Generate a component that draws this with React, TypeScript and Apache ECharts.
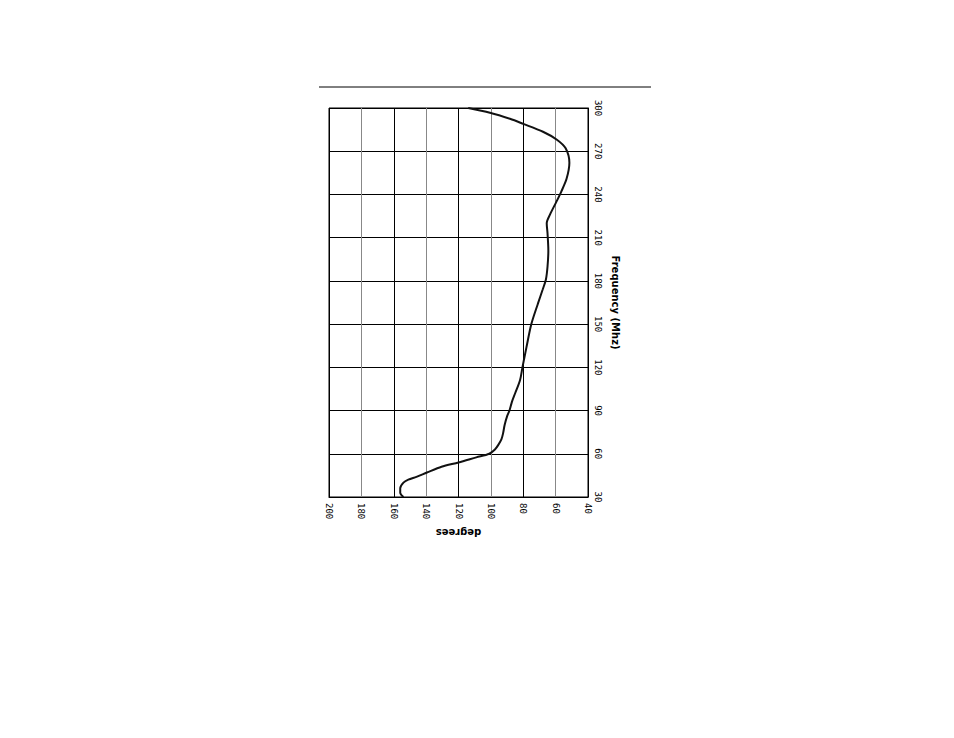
import { useEffect, useRef } from "react";
import * as echarts from "echarts";

// frequency (MHz) along the vertical axis, phase (degrees) along the horizontal one
const freqTicks = [30, 60, 90, 120, 150, 180, 210, 240, 270, 300];
const degreeTicks = [200, 180, 160, 140, 120, 100, 80, 60, 40];

const frequency = [
  30, 33, 36, 40, 42, 44, 47, 51, 54, 57.5, 60, 63, 66, 70, 74, 80, 86, 90, 96, 102, 111, 120,
  134, 150, 164, 174, 181, 190, 201, 213, 220, 226, 235, 242, 251, 262, 272, 278, 283.5, 289,
  292.5, 296.7, 300,
];
const degrees = [
  154, 156, 156, 154, 151, 146, 139.5, 130.5, 120, 109, 101, 97.5, 95.5, 93.5, 92.5, 91.5, 90,
  88.5, 87, 85, 82, 80.5, 78, 75, 71, 68, 66, 65, 64.5, 65, 65.5, 63.5, 59.5, 56.5, 53.2, 51.5,
  53.8, 59.2, 67.8, 80, 88.2, 100.6, 114,
];

const labelFont = { fontFamily: "DejaVu Sans Mono", fontSize: 9, color: "#000" };
const nameFont = { fontFamily: "DejaVu Sans", fontSize: 10, fontWeight: "bold" as const, color: "#000" };

const App = () => {
  const chartRef = useRef<HTMLDivElement>(null);

  useEffect(() => {
    if (!chartRef.current) return;
    const chart = echarts.init(chartRef.current, null, { renderer: "svg" });
    chart.setOption({
      animation: false,
      grid: {
        left: 329,
        top: 108,
        width: 259,
        height: 389,
        show: true,
        borderColor: "#000",
        borderWidth: 1,
      },
      graphic: [
        {
          type: "line",
          shape: { x1: 319, y1: 87, x2: 651, y2: 87 },
          style: { stroke: "#000", lineWidth: 1 },
        },
      ],
      xAxis: {
        type: "value",
        inverse: true,
        min: degreeTicks[degreeTicks.length - 1],
        max: degreeTicks[0],
        interval: 20,
        name: "degrees",
        nameLocation: "middle",
        nameRotate: 180,
        nameGap: 23,
        nameTextStyle: nameFont,
        axisLine: { show: true, lineStyle: { color: "#000", width: 1 } },
        axisTick: { show: false },
        axisLabel: { ...labelFont, rotate: -90, margin: 6 },
        splitLine: { show: true, lineStyle: { color: ["#000", "#888"], width: 1 } },
      },
      yAxis: {
        type: "value",
        position: "right",
        min: freqTicks[0],
        max: freqTicks[freqTicks.length - 1],
        interval: 30,
        name: "Frequency (Mhz)",
        nameLocation: "middle",
        nameRotate: -90,
        nameGap: 22,
        nameTextStyle: nameFont,
        axisLine: { show: true, lineStyle: { color: "#000", width: 1 } },
        axisTick: { show: false },
        axisLabel: { ...labelFont, rotate: -90, margin: 5 },
        splitLine: { show: true, lineStyle: { color: "#000", width: 1 } },
      },
      series: [
        {
          type: "line",
          data: frequency.map((f, i) => [degrees[i], f]),
          showSymbol: false,
          smooth: 0.3,
          lineStyle: { color: "#111", width: 2 },
        },
      ],
    });
    return () => {
      chart.dispose();
    };
  }, []);

  return (
    <div
      ref={chartRef}
      style={{ position: "absolute", left: 0, top: 0, width: 954, height: 738, background: "#fff" }}
    ></div>
  );
};

export default App;
